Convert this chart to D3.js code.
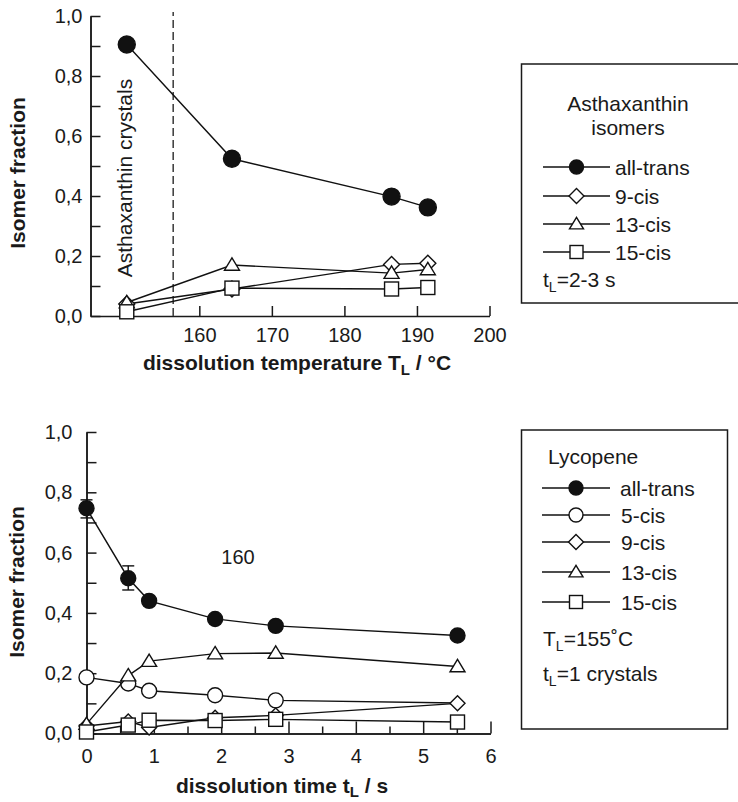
<!DOCTYPE html>
<meta charset="utf-8">
<head>
<style>
body {
  margin: 0;
  background: #fff;
}
text {
  font-family: Arial, "Liberation Sans", Helvetica, sans-serif;
  fill: #1a1a1a;
}
.axis path, .axis line {
  stroke: #1a1a1a;
  stroke-width: 1.5px;
  fill: none;
}
.axis text {
  font-size: 20px;
}
.series {
  fill: none;
  stroke: #111;
  stroke-width: 1.4px;
}
.marker {
  stroke: #111;
  stroke-width: 1.4px;
}
.title {
  font-weight: bold;
  font-size: 21px;
}
.note {
  font-size: 21px;
}
.box {
  fill: none;
  stroke: #1a1a1a;
  stroke-width: 1.5px;
}
</style>
<script src="https://cdn.jsdelivr.net/npm/d3@7"></script>
<title>Isomer fraction</title>
</head>
<body>
<script>

// ---- data: astaxanthin vs dissolution temperature ----
var temps          = [150, 164.5, 186.5, 191.5];
var astaAllTrans   = [0.905, 0.524, 0.398, 0.362];
var asta9cis       = [0.040, 0.090, 0.172, 0.176];
var asta13cis      = [0.045, 0.170, 0.143, 0.155];
var asta15cis      = [0.014, 0.093, 0.090, 0.095];
var crystalLimit   = 156.4;
var tempTicks      = [160, 170, 180, 190, 200];

// ---- data: lycopene vs dissolution time ----
var times          = [0, 0.62, 0.93, 1.91, 2.81, 5.51];
var lycAllTrans    = [0.747, 0.515, 0.440, 0.380, 0.357, 0.325];
var lyc5cis        = [0.186, 0.166, 0.142, 0.127, 0.110, 0.101];
var lyc9cis        = [0.025, 0.040, 0.020, 0.052, 0.060, 0.100];
var lyc13cis       = [0.031, 0.192, 0.240, 0.265, 0.267, 0.222];
var lyc15cis       = [0.005, 0.028, 0.044, 0.043, 0.047, 0.038];
var errTimes       = [0, 0.62];
var errLow         = [0.715, 0.476];
var errHigh        = [0.775, 0.556];
var timeTicks      = [0, 1, 2, 3, 4, 5, 6];
var timeMinorTicks = [0.5, 1.5, 2.5, 3.5, 4.5, 5.5];

var fracTicks      = [0, 0.2, 0.4, 0.6, 0.8, 1.0];
var fracMinorTicks = [0.1, 0.3, 0.5, 0.7, 0.9];

var svg = d3.select("body").append("svg")
    .attr("width", 738)
    .attr("height", 802);

var commaFormat = function(d) { return d3.format(".1f")(d).replace(".", ","); };

// draw one marker shape centred at 0,0
function drawMarker(g, shape, s) {
  if (shape == "circle") {
    g.append("circle").attr("class", "marker").attr("r", s.r).attr("fill", "#111");
  } else if (shape == "ocircle") {
    g.append("circle").attr("class", "marker").attr("r", s.r).attr("fill", "#fff");
  } else if (shape == "diamond") {
    var h = s.d;
    g.append("path").attr("class", "marker").attr("fill", "#fff")
      .attr("d", "M0," + (-h) + "L" + h + ",0L0," + h + "L" + (-h) + ",0Z");
  } else if (shape == "triangle") {
    var w = s.t;
    g.append("path").attr("class", "marker").attr("fill", "#fff")
      .attr("d", "M0," + (-w * 0.95) + "L" + w + "," + (w * 0.7) + "L" + (-w) + "," + (w * 0.7) + "Z");
  } else if (shape == "square") {
    g.append("rect").attr("class", "marker").attr("fill", "#fff")
      .attr("x", -s.q).attr("y", -s.q).attr("width", 2 * s.q).attr("height", 2 * s.q);
  }
}

// line + markers; "hidden" lists point indexes whose marker is covered in the original
function drawSeries(g, x, y, xs, ys, shape, s, hidden) {
  hidden = hidden || [];
  var pts = xs.map(function(v, i) { return [x(v), y(ys[i])]; });
  g.append("path")
    .attr("class", "series")
    .attr("d", d3.line()(pts));
  pts.forEach(function(p, i) {
    if (hidden.indexOf(i) >= 0) return;
    drawMarker(g.append("g").attr("transform", "translate(" + p[0] + "," + p[1] + ")"), shape, s);
  });
}

function legendRow(g, x0, x1, y, shape, s, label, tx) {
  g.append("line").attr("class", "series")
    .attr("x1", x0).attr("x2", x1).attr("y1", y).attr("y2", y);
  drawMarker(g.append("g").attr("transform", "translate(" + ((x0 + x1) / 2) + "," + y + ")"), shape, s);
  g.append("text").attr("class", "note").attr("x", tx).attr("y", y + 7.5).text(label);
}

function subText(g, x, y, main, sub, rest) {
  var t = g.append("text").attr("class", "note").attr("x", x).attr("y", y);
  t.append("tspan").text(main);
  t.append("tspan").attr("dy", 5).style("font-size", "14px").text(sub);
  t.append("tspan").attr("dy", -5).text(rest);
  return t;
}

// ================= top panel =================
var xTop = d3.scaleLinear().domain([145, 200]).range([90.5, 489.5]);
var yTop = d3.scaleLinear().domain([0, 1]).range([316, 16]);
var gTop = svg.append("g");

gTop.append("g").attr("class", "axis")
  .attr("transform", "translate(0,316)")
  .call(d3.axisBottom(xTop).tickValues(tempTicks).tickFormat(d3.format("d")).tickSize(-10).tickSizeOuter(0).tickPadding(12));

gTop.append("g").attr("class", "axis")
  .attr("transform", "translate(90.5,0)")
  .call(d3.axisLeft(yTop).tickValues(fracTicks).tickFormat(commaFormat).tickSize(-10).tickSizeOuter(0).tickPadding(8));
gTop.append("g").attr("class", "axis")
  .attr("transform", "translate(90.5,0)")
  .call(d3.axisLeft(yTop).tickValues(fracMinorTicks).tickFormat("").tickSize(-10).tickSizeOuter(0));

// crystal limit
gTop.append("line")
  .attr("x1", xTop(crystalLimit)).attr("x2", xTop(crystalLimit))
  .attr("y1", yTop(0)).attr("y2", 12)
  .attr("stroke", "#444").attr("stroke-width", 1.6)
  .attr("stroke-dasharray", "8,4");

gTop.append("text").attr("class", "note")
  .attr("transform", "translate(132,178) rotate(-90)")
  .style("text-anchor", "middle")
  .text("Asthaxanthin crystals");

var sTop = {r: 8.5, d: 8, t: 7.5, q: 7};
drawSeries(gTop, xTop, yTop, temps, astaAllTrans, "circle", sTop);
drawSeries(gTop, xTop, yTop, temps, asta9cis, "diamond", sTop);
drawSeries(gTop, xTop, yTop, temps, asta13cis, "triangle", sTop);
drawSeries(gTop, xTop, yTop, temps, asta15cis, "square", sTop);

// axis titles
var tTop = gTop.append("text").attr("class", "title")
  .attr("x", 297).attr("y", 370).style("text-anchor", "middle");
tTop.append("tspan").text("dissolution temperature T");
tTop.append("tspan").attr("dy", 5).style("font-size", "15px").text("L");
tTop.append("tspan").attr("dy", -5).text(" / °C");

gTop.append("text").attr("class", "title")
  .attr("transform", "translate(25,173) rotate(-90)")
  .style("text-anchor", "middle")
  .text("Isomer fraction");

// legend
var lTop = svg.append("g");
lTop.append("rect").attr("class", "box")
  .attr("x", 521.5).attr("y", 64).attr("width", 230).attr("height", 239);
lTop.append("text").attr("class", "note").attr("x", 628).attr("y", 111)
  .style("text-anchor", "middle").text("Asthaxanthin");
lTop.append("text").attr("class", "note").attr("x", 628).attr("y", 135)
  .style("text-anchor", "middle").text("isomers");
legendRow(lTop, 543, 610, 167, "circle", {r: 7}, "all-trans", 615);
legendRow(lTop, 543, 610, 196, "diamond", {d: 7.5}, "9-cis", 615);
legendRow(lTop, 543, 610, 224, "triangle", {t: 7}, "13-cis", 615);
legendRow(lTop, 543, 610, 252, "square", {q: 6.5}, "15-cis", 615);
subText(lTop, 543, 287, "t", "L", "=2-3 s");

// ================= bottom panel =================
var xBot = d3.scaleLinear().domain([0, 6]).range([86.5, 490.5]);
var yBot = d3.scaleLinear().domain([0, 1]).range([733.5, 432]);
var gBot = svg.append("g");

gBot.append("g").attr("class", "axis")
  .attr("transform", "translate(0,733.5)")
  .call(d3.axisBottom(xBot).tickValues(timeTicks).tickFormat(d3.format("d")).tickSize(-12).tickSizeOuter(0).tickPadding(15));
gBot.append("g").attr("class", "axis")
  .attr("transform", "translate(0,733.5)")
  .call(d3.axisBottom(xBot).tickValues(timeMinorTicks).tickFormat("").tickSize(-7).tickSizeOuter(0));

gBot.append("g").attr("class", "axis")
  .attr("transform", "translate(86.5,0)")
  .call(d3.axisLeft(yBot).tickValues(fracTicks).tickFormat(commaFormat).tickSize(-10).tickSizeOuter(0).tickPadding(14));
gBot.append("g").attr("class", "axis")
  .attr("transform", "translate(86.5,0)")
  .call(d3.axisLeft(yBot).tickValues(fracMinorTicks).tickFormat("").tickSize(-10).tickSizeOuter(0));

gBot.append("text").attr("class", "note")
  .attr("x", xBot(2.25)).attr("y", 564)
  .style("text-anchor", "middle").style("font-size", "20px")
  .text("160");

// error bars
errTimes.forEach(function(t, i) {
  var ex = xBot(t);
  var eg = gBot.append("g").attr("stroke", "#111").attr("stroke-width", 1.4);
  eg.append("line").attr("x1", ex).attr("x2", ex).attr("y1", yBot(errLow[i])).attr("y2", yBot(errHigh[i]));
  eg.append("line").attr("x1", ex - 6).attr("x2", ex + 6).attr("y1", yBot(errLow[i])).attr("y2", yBot(errLow[i]));
  eg.append("line").attr("x1", ex - 6).attr("x2", ex + 6).attr("y1", yBot(errHigh[i])).attr("y2", yBot(errHigh[i]));
});

var sBot = {r: 7.5, d: 7.5, t: 7.5, q: 7};
drawSeries(gBot, xBot, yBot, times, lyc5cis, "ocircle", sBot, [5]);
drawSeries(gBot, xBot, yBot, times, lyc9cis, "diamond", sBot);
drawSeries(gBot, xBot, yBot, times, lyc13cis, "triangle", sBot);
drawSeries(gBot, xBot, yBot, times, lyc15cis, "square", sBot);
drawSeries(gBot, xBot, yBot, times, lycAllTrans, "circle", sBot);

var tBot = gBot.append("text").attr("class", "title")
  .attr("x", 282).attr("y", 793).style("text-anchor", "middle");
tBot.append("tspan").text("dissolution time t");
tBot.append("tspan").attr("dy", 4).style("font-size", "15px").text("L");
tBot.append("tspan").attr("dy", -4).text(" / s");

gBot.append("text").attr("class", "title")
  .attr("transform", "translate(23.5,582) rotate(-90)")
  .style("text-anchor", "middle")
  .text("Isomer fraction");

// legend
var lBot = svg.append("g");
lBot.append("rect").attr("class", "box")
  .attr("x", 521.5).attr("y", 430).attr("width", 206).attr("height", 299);
lBot.append("text").attr("class", "note").attr("x", 548).attr("y", 464).text("Lycopene");
legendRow(lBot, 542, 610, 488, "circle", {r: 7}, "all-trans", 620);
legendRow(lBot, 542, 610, 515, "ocircle", {r: 7}, "5-cis", 621);
legendRow(lBot, 542, 610, 542, "diamond", {d: 7.5}, "9-cis", 621);
legendRow(lBot, 542, 610, 572, "triangle", {t: 7}, "13-cis", 621);
legendRow(lBot, 542, 610, 602, "square", {q: 6.5}, "15-cis", 621);
subText(lBot, 543, 646, "T", "L", "=155˚C");
subText(lBot, 543, 681, "t", "L", "=1 crystals");

</script>
</body>
</html>
